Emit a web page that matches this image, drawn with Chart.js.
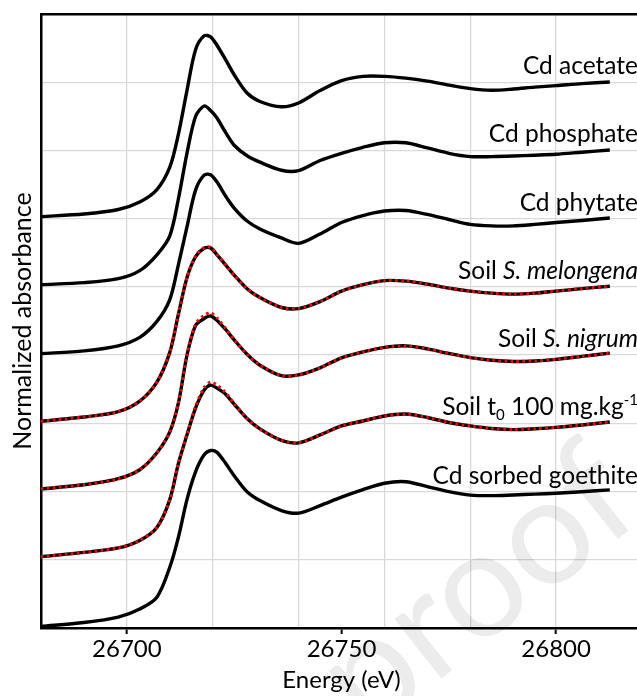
<!DOCTYPE html>
<html lang="es">
<head>
<meta charset="utf-8">
<title>XANES Cd</title>
<script src="https://cdn.jsdelivr.net/npm/chart.js@4.4.1/dist/chart.umd.min.js"></script>
<style>
  html, body { margin: 0; padding: 0; overflow: hidden; background: #fff; }
  #contenedor { width: 645px; height: 696px; }
</style>
</head>
<body>
<div id="contenedor"><canvas id="chart-xanes" width="645" height="696"></canvas></div>
<script>
'use strict';

//////////////////////////////////////////////////////////////////////
// DATOS (absorbancia normalizada)
//////////////////////////////////////////////////////////////////////

const energias = [26680, 26690, 26698, 26703, 26707, 26710, 26712, 26714, 26716, 26718,
  26719.5, 26721, 26723, 26725, 26728, 26731, 26736, 26740, 26745, 26750,
  26755, 26760, 26765, 26770, 26775, 26780, 26785, 26790, 26795, 26800, 26806, 26812.5];

const nombresEspectros = ['Cd acetate', 'Cd phosphate', 'Cd phytate',
  'Soil S. melongena', 'Soil S. nigrum', 'Soil t0 100 mg.kg-1', 'Cd sorbed goethite'];

// separación vertical de cada espectro
const desplazamientos = [3, 2.5, 2, 1.5, 1, 0.5, 0];

const cdAcetato = [0.015, 0.034, 0.067, 0.122, 0.213, 0.377, 0.618, 0.939, 1.238, 1.340,
  1.333, 1.271, 1.165, 1.055, 0.921, 0.859, 0.820, 0.848, 0.939, 1.012,
  1.043, 1.043, 1.030, 1.008, 0.979, 0.953, 0.941, 0.950, 0.964, 0.975, 0.990, 1.002];

const cdFosfato = [0.016, 0.031, 0.060, 0.119, 0.235, 0.374, 0.644, 0.979, 1.249, 1.326,
  1.293, 1.238, 1.132, 1.038, 0.961, 0.914, 0.855, 0.852, 0.926, 0.979,
  1.023, 1.056, 1.056, 1.019, 0.979, 0.955, 0.955, 0.959, 0.965, 0.972, 0.987, 1.003];

const cdFitato = [0.011, 0.031, 0.068, 0.130, 0.247, 0.407, 0.662, 0.939, 1.209, 1.319,
  1.322, 1.268, 1.166, 1.078, 0.983, 0.925, 0.859, 0.819, 0.888, 0.972,
  1.023, 1.056, 1.060, 1.031, 0.994, 0.958, 0.947, 0.947, 0.958, 0.972, 0.987, 1.005];

const sueloMelongena = [0.015, 0.046, 0.086, 0.163, 0.302, 0.520, 0.798, 1.067, 1.221, 1.283,
  1.286, 1.235, 1.162, 1.086, 0.987, 0.922, 0.849, 0.841, 0.892, 0.969,
  1.016, 1.046, 1.042, 1.020, 0.991, 0.969, 0.954, 0.947, 0.954, 0.969, 0.987, 1.005];

const sueloNigrum = [0.019, 0.050, 0.094, 0.160, 0.284, 0.437, 0.648, 0.999, 1.217, 1.268,
  1.287, 1.254, 1.188, 1.112, 1.006, 0.926, 0.849, 0.855, 0.907, 0.980,
  1.024, 1.057, 1.068, 1.046, 1.012, 0.982, 0.962, 0.953, 0.957, 0.969, 0.991, 1.015];

const sueloT0 = [0.023, 0.054, 0.087, 0.142, 0.237, 0.441, 0.704, 0.915, 1.112, 1.243,
  1.280, 1.258, 1.214, 1.141, 1.035, 0.959, 0.875, 0.857, 0.915, 0.981,
  1.017, 1.054, 1.068, 1.043, 1.006, 0.981, 0.962, 0.954, 0.960, 0.970, 0.988, 1.010];

const cdGoethita = [0.012, 0.040, 0.080, 0.139, 0.226, 0.445, 0.664, 0.941, 1.145, 1.269,
  1.301, 1.287, 1.207, 1.116, 0.999, 0.934, 0.861, 0.842, 0.897, 0.959,
  1.014, 1.061, 1.072, 1.036, 0.999, 0.974, 0.970, 0.975, 0.981, 0.988, 0.999, 1.012];

// ajustes por combinación lineal (puntos rojos)
const ajusteMelongena = [0.016, 0.046, 0.086, 0.162, 0.300, 0.522, 0.800, 1.066, 1.224, 1.288,
  1.290, 1.238, 1.163, 1.085, 0.988, 0.921, 0.850, 0.842, 0.893, 0.968,
  1.016, 1.045, 1.043, 1.019, 0.991, 0.968, 0.954, 0.948, 0.954, 0.970, 0.987, 1.004];

const ajusteNigrum = [0.020, 0.050, 0.093, 0.161, 0.284, 0.436, 0.650, 1.000, 1.225, 1.292,
  1.310, 1.272, 1.196, 1.114, 1.005, 0.927, 0.850, 0.854, 0.906, 0.980,
  1.024, 1.056, 1.066, 1.045, 1.012, 0.982, 0.962, 0.954, 0.957, 0.970, 0.990, 1.014];

const ajusteSueloT0 = [0.022, 0.054, 0.088, 0.142, 0.238, 0.440, 0.703, 0.918, 1.122, 1.262,
  1.302, 1.280, 1.225, 1.146, 1.036, 0.958, 0.876, 0.857, 0.914, 0.980,
  1.018, 1.054, 1.067, 1.043, 1.007, 0.981, 0.962, 0.955, 0.960, 0.970, 0.988, 1.010];

const espectros = [cdAcetato, cdFosfato, cdFitato, sueloMelongena, sueloNigrum, sueloT0, cdGoethita];
// índice del espectro al que corresponde cada ajuste
const ajustes = [[3, ajusteMelongena], [4, ajusteNigrum], [5, ajusteSueloT0]];

// etiquetas con estilo (cursiva, subíndice, superíndice)
const etiquetasEspectros = [
  [{ texto: 'Cd acetate' }],
  [{ texto: 'Cd phosphate' }],
  [{ texto: 'Cd phytate' }],
  [{ texto: 'Soil ' }, { texto: 'S. melongena', estilo: 'cursiva' }],
  [{ texto: 'Soil ' }, { texto: 'S. nigrum', estilo: 'cursiva' }],
  [{ texto: 'Soil t' }, { texto: '0', estilo: 'sub' }, { texto: ' 100 mg.kg' }, { texto: '-1', estilo: 'sup' }],
  [{ texto: 'Cd sorbed goethite' }]
];

const marcaAgua = 'Journal Pre-proof';

//////////////////////////////////////////////////////////////////////
// GRÁFICO
//////////////////////////////////////////////////////////////////////

const FUENTE = 'Lato';
const TAM_ETIQUETA = 24.5;
const TAM_TICKS = 24;
const TAM_TITULO_X = 24;
const TAM_TITULO_Y = 25;
const ENERGIA_ETIQUETA = 26820;

function construirPuntos(valores, desplazamiento) {
  return valores.map(function (v, i) {
    return { x: energias[i], y: v + desplazamiento };
  });
}

function fuenteParte(parte) {
  if (parte.estilo === 'cursiva') return 'italic ' + TAM_ETIQUETA + 'px ' + FUENTE;
  if (parte.estilo === 'sub' || parte.estilo === 'sup') return '15px ' + FUENTE;
  return TAM_ETIQUETA + 'px ' + FUENTE;
}

function desfaseParte(parte) {
  if (parte.estilo === 'sub') return 5;
  if (parte.estilo === 'sup') return -10;
  return 0;
}

const pluginEtiquetas = {
  id: 'etiquetasEspectros',
  afterDatasetsDraw: function (chart) {
    const ctx = chart.ctx;
    const xDerecha = chart.scales.x.getPixelForValue(ENERGIA_ETIQUETA) - 4;
    ctx.save();
    ctx.fillStyle = '#000';
    ctx.textBaseline = 'alphabetic';
    ctx.textAlign = 'left';
    etiquetasEspectros.forEach(function (partes, i) {
      const yBase = chart.scales.y.getPixelForValue(desplazamientos[i] + 1) - 8;
      let ancho = 0;
      partes.forEach(function (p) {
        ctx.font = fuenteParte(p);
        ancho += ctx.measureText(p.texto).width;
      });
      let x = xDerecha - ancho;
      partes.forEach(function (p) {
        ctx.font = fuenteParte(p);
        ctx.fillText(p.texto, x, yBase + desfaseParte(p));
        x += ctx.measureText(p.texto).width;
      });
    });
    ctx.restore();
  }
};

// marca de agua tenue en diagonal (esquina inferior derecha)
const pluginMarcaAgua = {
  id: 'marcaAgua',
  afterDraw: function (chart) {
    const ctx = chart.ctx;
    ctx.save();
    ctx.translate(chart.width + 2, chart.height - 180);
    ctx.rotate(-0.67);
    ctx.font = '150px ' + FUENTE;
    ctx.fillStyle = 'rgba(0, 0, 0, 0.075)';
    ctx.textAlign = 'right';
    ctx.textBaseline = 'alphabetic';
    ctx.fillText(marcaAgua, 0, 0);
    ctx.restore();
  }
};

function crearChartXanes() {
  const canvas = document.getElementById('chart-xanes');
  if (!canvas || typeof Chart === 'undefined') return;

  Chart.defaults.font.family = FUENTE;
  Chart.defaults.color = '#000';

  const datasets = [];

  espectros.forEach(function (valores, i) {
    datasets.push({
      label: nombresEspectros[i],
      data: construirPuntos(valores, desplazamientos[i]),
      borderColor: '#000000',
      borderWidth: 3.4,
      pointRadius: 0,
      tension: 0.3,
      fill: false,
      order: 1
    });
  });

  ajustes.forEach(function (par) {
    const i = par[0];
    datasets.push({
      label: nombresEspectros[i] + ' (fit)',
      data: construirPuntos(par[1], desplazamientos[i]),
      borderColor: '#ff0000',
      borderWidth: 3,
      borderDash: [2.5, 3.5],
      borderCapStyle: 'butt',
      pointRadius: 0,
      tension: 0.3,
      fill: false,
      order: 0
    });
  });

  return new Chart(canvas.getContext('2d'), {
    type: 'line',
    data: { datasets: datasets },
    plugins: [pluginEtiquetas, pluginMarcaAgua],
    options: {
      responsive: false,
      animation: false,
      layout: { padding: { left: 5, right: 1, top: 14, bottom: 4 } },
      plugins: {
        legend: { display: false },
        tooltip: { enabled: false }
      },
      scales: {
        x: {
          type: 'linear',
          position: 'bottom',
          min: 26680,
          max: 26820,
          ticks: {
            stepSize: 10,
            autoSkip: false,
            maxRotation: 0,
            padding: 3,
            font: { size: TAM_TICKS, lineHeight: 1 },
            callback: function (v) {
              return v % 50 === 0 ? String(v) : '';
            }
          },
          grid: {
            color: function (c) {
              return c.tick && c.tick.value % 20 === 0 ? '#d9d9d9' : 'rgba(0,0,0,0)';
            },
            lineWidth: 1.3,
            tickLength: 6,
            tickWidth: 2,
            tickColor: function (c) {
              return c.tick && c.tick.value % 50 === 0 ? '#000' : 'rgba(0,0,0,0)';
            }
          },
          border: { color: '#000', width: 2.5 },
          title: {
            display: true,
            text: 'Energy (eV)',
            font: { size: TAM_TITULO_X, lineHeight: 1 },
            padding: { top: 4, bottom: 0 }
          }
        },
        x2: {
          type: 'linear',
          position: 'top',
          min: 26680,
          max: 26820,
          ticks: { display: false },
          grid: { display: false, drawTicks: false },
          border: { color: '#000', width: 2.5 }
        },
        y: {
          min: 0,
          max: 4.5,
          ticks: { display: false, stepSize: 0.5 },
          grid: { color: '#d9d9d9', lineWidth: 1.3, drawTicks: false },
          border: { color: '#000', width: 2.5 },
          title: {
            display: true,
            text: 'Normalized absorbance',
            font: { size: TAM_TITULO_Y, lineHeight: 1.2 },
            padding: 3
          }
        }
      }
    }
  });
}

crearChartXanes();
</script>
</body>
</html>
